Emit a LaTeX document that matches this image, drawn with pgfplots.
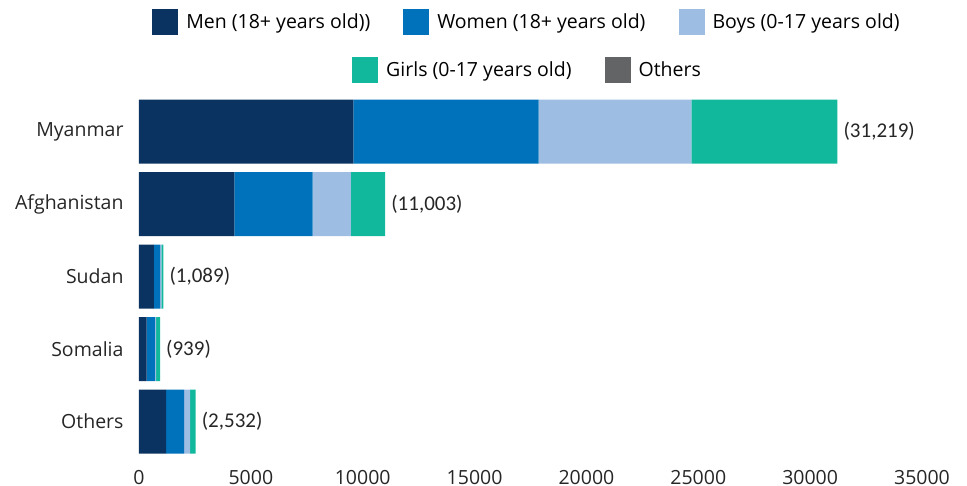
\documentclass[border=0pt]{standalone}
\usepackage{pgfplots}
\usepackage{pgfplotstable}
\pgfplotsset{compat=1.18}
\usepackage{fontspec}
\setmainfont{Open Sans}
\newfontfamily\labfont{Carlito}
\definecolor{cmen}{HTML}{0A3361}
\definecolor{cwomen}{HTML}{0072BB}
\definecolor{cboys}{HTML}{9DBDE2}
\definecolor{cgirls}{HTML}{12B89C}
\definecolor{cothers}{HTML}{636466}
\pgfplotstableread{
idx men women boys girls total label
0 9580 8280 6830 6529 31219 {(31,219)}
1 4260 3500 1710 1533 11003 {(11,003)}
2 670 270 60 89 1089 {(1,089)}
3 344 371 45 179 939 {(939)}
4 1207 805 268 252 2532 {(2,532)}
}\datatable
\begin{document}
\begin{tikzpicture}[x=1pt,y=1pt]
\useasboundingbox (0,0) rectangle (967,-485);
\begin{axis}[
  at={(139pt,-457.75pt)}, anchor=south west,
  scale only axis, width=783pt, height=362.5pt,
  xbar stacked, bar width=64pt,
  xmin=0, xmax=35000, ymin=-0.5, ymax=4.5, y dir=reverse,
  xtick={0,5000,...,35000}, scaled ticks=false,
  /pgf/number format/1000 sep={},
  /pgf/number format/assume math mode=true,
  ytick={0,1,2,3,4},
  yticklabels={Myanmar,Afghanistan,Sudan,Somalia,Others},
  axis line style={draw=none}, tick style={draw=none},
  tick label style={font=\fontsize{19.5}{23}\selectfont, text=black!85},
  xticklabel style={inner ysep=0pt, yshift=-12pt},
  yticklabel style={xshift=-12pt},
  legend image code/.code={\fill[#1] (0pt,-13pt) rectangle (26pt,13pt);},
  legend style={at={(0.4955,1.2034)}, anchor=center, draw=none, fill=none,
    font=\fontsize{19.5}{23}\selectfont, legend columns=3,
    /tikz/every odd column/.append style={column sep=6pt},
    /tikz/every even column/.append style={column sep=31pt}},
  legend cell align=left,
]
\addplot[fill=cmen, draw=none] table[x=men, y=idx] {\datatable};
\addplot[fill=cwomen, draw=none] table[x=women, y=idx] {\datatable};
\addplot[fill=cboys, draw=none] table[x=boys, y=idx] {\datatable};
\addplot[fill=cgirls, draw=none] table[x=girls, y=idx] {\datatable};
\legend{Men (18+ years old)),Women (18+ years old),Boys (0-17 years old)}
\end{axis}
\begin{axis}[
  at={(139pt,-457.75pt)}, anchor=south west,
  scale only axis, width=783pt, height=362.5pt,
  hide axis, xmin=0, xmax=35000, ymin=-0.5, ymax=4.5, y dir=reverse,
  clip=false,
  legend image code/.code={\fill[#1] (0pt,-13pt) rectangle (26pt,13pt);},
  legend style={at={(0.4962,1.071)}, anchor=center, draw=none, fill=none,
    font=\fontsize{19.5}{23}\selectfont, legend columns=2,
    /tikz/every odd column/.append style={column sep=6pt},
    /tikz/every even column/.append style={column sep=31pt}},
  legend cell align=left,
]
\addplot[draw=none, mark=none, forget plot, point meta=explicit symbolic,
  nodes near coords={\pgfplotspointmeta},
  every node near coord/.append style={font=\labfont\fontsize{21}{24}\selectfont, text=black!85, anchor=west, inner sep=0pt, xshift=6pt}]
  table[x=total, y=idx, meta=label] {\datatable};
\addlegendimage{fill=cgirls, draw=none}
\addlegendentry{Girls (0-17 years old)}
\addlegendimage{fill=cothers, draw=none}
\addlegendentry{Others}
\end{axis}
\end{tikzpicture}
\end{document}
